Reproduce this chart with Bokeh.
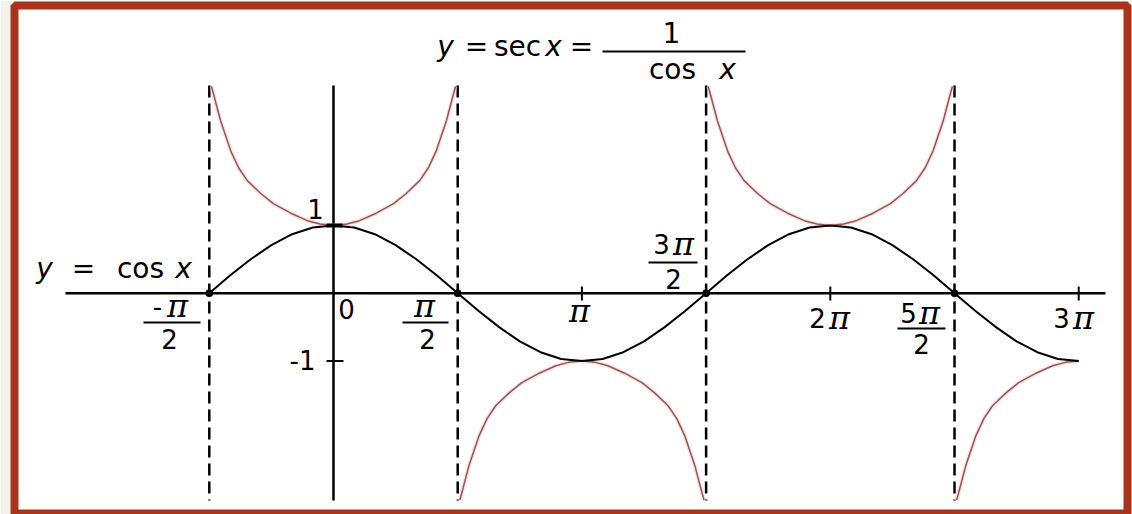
import numpy as np
from bokeh.plotting import figure
from bokeh.models import Range1d, ColumnDataSource
from bokeh.core.properties import value
from bokeh.embed import file_html
from bokeh.resources import INLINE

PI = np.pi

# ---- data ----
# cosine curve, sampled every pi/12 from -pi/2 to 3pi
cos_x = [k * PI / 12 for k in range(-6, 37)]
cos_y = [0.0, 0.26, 0.5, 0.71, 0.87, 0.97, 1.0, 0.97, 0.87, 0.71, 0.5, 0.26,
         0.0, -0.26, -0.5, -0.71, -0.87, -0.97, -1.0, -0.97, -0.87, -0.71, -0.5, -0.26,
         0.0, 0.26, 0.5, 0.71, 0.87, 0.97, 1.0, 0.97, 0.87, 0.71, 0.5, 0.26,
         0.0, -0.26, -0.5, -0.71, -0.87, -0.97, -1.0]

# secant branch profile (offset from branch centre, |y|) as drawn
sec_u = [0.0, 0.17, 0.33, 0.54, 0.76, 0.92, 1.09, 1.20, 1.30, 1.43, 1.52, 1.545]
sec_mag = [1.0, 1.02, 1.07, 1.18, 1.32, 1.47, 1.66, 1.85, 2.10, 2.55, 2.95, 3.05]
branch_centres = [0.0, PI, 2 * PI, 3 * PI]
branch_signs = [1, -1, 1, -1]
branch_full = [True, True, True, False]

asymptotes = [-PI / 2, PI / 2, 3 * PI / 2, 5 * PI / 2]
zeros = [-PI / 2, PI / 2, 3 * PI / 2, 5 * PI / 2]
xticks = [PI, 2 * PI, 3 * PI]
yticks = [1, -1]

# ---- pixel helpers (layout only) ----
X0, KX = 333.0, 79.07
Y0, KY = 292.7, 67.8
TSHIFT = 10  # text baseline correction
def X(px): return (px - X0) / KX
def Y(py): return (Y0 - py) / KY

W, H = 1132, 514
p = figure(width=W, height=H, output_backend="svg", toolbar_location=None,
           x_range=Range1d(X(14), X(1127)), y_range=Range1d(Y(514), Y(5)),
           min_border_left=14, min_border_right=5, min_border_top=5, min_border_bottom=0)
p.axis.visible = False
p.grid.visible = False
p.outline_line_color = "#a9341c"
p.outline_line_width = 8
p.border_fill_color = "#f2f3eb"
p.background_fill_color = "white"

# axes
p.segment(x0=[X(65), 0], y0=[0, Y(85)], x1=[X(1105), 0], y1=[0, Y(500)],
          line_color="black", line_width=2.5)

# asymptotes
p.segment(x0=asymptotes, y0=[Y(85)] * 4, x1=asymptotes, y1=[Y(500)] * 4,
          line_color="black", line_width=2.5, line_dash="12 6")

# secant branches
xs, ys = [], []
for c, s, full in zip(branch_centres, branch_signs, branch_full):
    left_x = [c - u for u in reversed(sec_u)]
    left_y = [s * m for m in reversed(sec_mag)]
    if full:
        bx = left_x + [c + u for u in sec_u[1:]]
        by = left_y + [s * m for m in sec_mag[1:]]
    else:
        bx, by = left_x, left_y
    xs.append(bx)
    ys.append(by)
p.multi_line(xs, ys, line_color="#f0c8c8", line_width=4, line_alpha=0.5)
p.multi_line(xs, ys, line_color="#9a5550", line_width=1.5)

# cosine
p.line(cos_x, cos_y, line_color="black", line_width=2)

# ticks
p.segment(x0=xticks, y0=[Y(286)] * 3, x1=xticks, y1=[Y(300)] * 3,
          line_color="black", line_width=2)
p.segment(x0=[X(326)], y0=[1], x1=[X(342)], y1=[1], line_color="black", line_width=4)
p.segment(x0=[X(326)], y0=[-1], x1=[X(343)], y1=[-1], line_color="black", line_width=2)

# zero-crossing dots
p.scatter(zeros, [0] * 4, size=7, color="black")

SANS = value("DejaVu Sans")
SERIF = value("DejaVu Serif")

def txt(items, size="26px", style="normal", font=SANS, align="center"):
    src = ColumnDataSource(dict(x=[X(a) for a, b, t in items],
                                y=[Y(b - TSHIFT) for a, b, t in items],
                                t=[t for a, b, t in items]))
    p.text(x="x", y="y", text="t", source=src, text_font=font,
           text_font_size=size, text_font_style=style, text_align=align,
           text_baseline="alphabetic", text_color="black")

# tick labels: digits and signs
txt([(157, 315, "-"), (169, 348, "2"),
     (346, 318, "0"),
     (427, 348, "2"),
     (661, 253, "3"), (673, 288, "2"),
     (817, 327, "2"),
     (908, 322, "5"), (921, 353, "2"),
     (1061, 327, "3"),
     (315, 218, "1"), (302, 369, "-1")])
# tick labels: pi symbols
txt([(177, 315, "π"), (424, 315, "π"), (579, 320, "π"), (683, 253, "π"),
     (839, 327, "π"), (929, 322, "π"), (1083, 327, "π")],
    size="32px", style="italic", font=SERIF)
# fraction bars
bars = [(143, 200, 322), (402, 448, 322), (648, 697, 262), (897, 945, 328), (602, 745, 51)]
p.segment(x0=[X(a) for a, b, c in bars], y0=[Y(c) for a, b, c in bars],
          x1=[X(b) for a, b, c in bars], y1=[Y(c) for a, b, c in bars],
          line_color="black", line_width=2)

# y = cos x
txt([(44, 278, "y"), (183, 278, "x")], size="28px", style="italic")
txt([(83, 278, "="), (140, 278, "cos")], size="28px")

# y = sec x = 1 / cos x
txt([(445, 56, "y"), (553, 56, "x"), (727, 79, "x")], size="28px", style="italic")
txt([(476, 56, "="), (517, 56, "sec"), (581, 56, "="), (671, 42, "1"), (672, 79, "cos")],
    size="28px")

open("out.html", "w").write(file_html(p, INLINE))
